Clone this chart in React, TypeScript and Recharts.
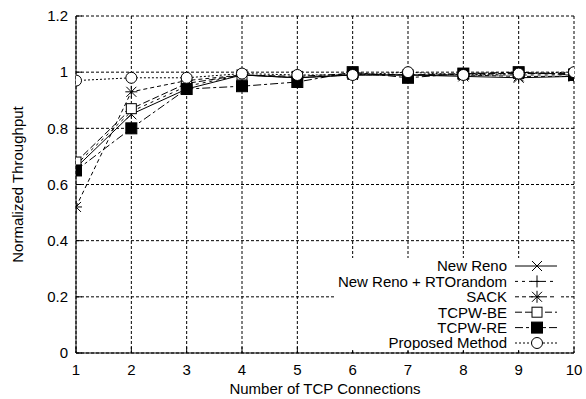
import React from 'react';
import { LineChart, Line, XAxis, YAxis, CartesianGrid, Legend } from 'recharts';

const connections = [1, 2, 3, 4, 5, 6, 7, 8, 9, 10];
const newReno = [0.66, 0.85, 0.94, 0.99, 0.98, 0.99, 0.99, 0.985, 0.98, 0.985];
const newRenoRto = [0.67, 0.86, 0.95, 0.99, 0.98, 0.99, 0.99, 0.99, 0.99, 0.99];
const sack = [0.52, 0.93, 0.97, 0.99, 0.98, 0.99, 0.99, 0.99, 0.985, 0.985];
const tcpwBE = [0.68, 0.87, 0.96, 0.99, 0.985, 0.995, 0.99, 0.995, 0.995, 0.995];
const tcpwRE = [0.65, 0.8, 0.94, 0.95, 0.965, 1.0, 0.98, 0.995, 1.0, 0.99];
const proposed = [0.97, 0.98, 0.98, 0.995, 0.99, 0.99, 1.0, 0.99, 0.995, 1.0];

const xTicks = [1, 2, 3, 4, 5, 6, 7, 8, 9, 10];
const yTicks = [0, 0.2, 0.4, 0.6, 0.8, 1, 1.2];

const FONT = '"Liberation Sans", Arial, Helvetica, sans-serif';

type MarkerKind = 'x' | 'plus' | 'star' | 'openSquare' | 'filledSquare' | 'circle';

const series: { key: string; name: string; values: number[]; dash?: string; marker: MarkerKind }[] = [
  { key: 'newReno', name: 'New Reno', values: newReno, dash: undefined, marker: 'x' },
  { key: 'newRenoRto', name: 'New Reno + RTOrandom', values: newRenoRto, dash: '3 4', marker: 'plus' },
  { key: 'sack', name: 'SACK', values: sack, dash: '4 3', marker: 'star' },
  { key: 'tcpwBE', name: 'TCPW-BE', values: tcpwBE, dash: '7 3', marker: 'openSquare' },
  { key: 'tcpwRE', name: 'TCPW-RE', values: tcpwRE, dash: '8 3 3 3', marker: 'filledSquare' },
  { key: 'proposed', name: 'Proposed Method', values: proposed, dash: '2 2', marker: 'circle' },
];

const data = connections.map((x, i) => {
  const row: Record<string, number> = { x };
  series.forEach((s) => {
    row[s.key] = s.values[i];
  });
  return row;
});

function Marker({ cx, cy, kind }: { cx: number; cy: number; kind: MarkerKind }) {
  const h = 5;
  switch (kind) {
    case 'x':
      return (
        <g stroke="#000" strokeWidth={1}>
          <line x1={cx - h} y1={cy - h} x2={cx + h} y2={cy + h} />
          <line x1={cx - h} y1={cy + h} x2={cx + h} y2={cy - h} />
        </g>
      );
    case 'plus':
      return (
        <g stroke="#000" strokeWidth={1}>
          <line x1={cx - h - 1} y1={cy} x2={cx + h + 1} y2={cy} />
          <line x1={cx} y1={cy - h - 1} x2={cx} y2={cy + h + 1} />
        </g>
      );
    case 'star':
      return (
        <g stroke="#000" strokeWidth={1}>
          <line x1={cx - h} y1={cy - h} x2={cx + h} y2={cy + h} />
          <line x1={cx - h} y1={cy + h} x2={cx + h} y2={cy - h} />
          <line x1={cx - h - 1} y1={cy} x2={cx + h + 1} y2={cy} />
          <line x1={cx} y1={cy - h - 1} x2={cx} y2={cy + h + 1} />
        </g>
      );
    case 'openSquare':
      return <rect x={cx - 5} y={cy - 5} width={10} height={10} fill="#fff" stroke="#000" strokeWidth={1} />;
    case 'filledSquare':
      return <rect x={cx - 5.5} y={cy - 5.5} width={11} height={11} fill="#000" stroke="#000" strokeWidth={1} />;
    case 'circle':
    default:
      return <circle cx={cx} cy={cy} r={5.5} fill="#fff" stroke="#000" strokeWidth={1} />;
  }
}

const makeDot = (kind: MarkerKind) => (props: any) => {
  const { cx, cy, index } = props;
  if (cx == null || cy == null) return <g key={`d-${kind}-${index}`} />;
  return (
    <g key={`d-${kind}-${index}`}>
      <Marker cx={cx} cy={cy} kind={kind} />
    </g>
  );
};

const renderLegend = () => (
  <svg width={225} height={92} style={{ display: 'block', background: '#fff' }}>
    {series.map((s, i) => {
      const y = 8 + i * 15.4;
      return (
        <g key={s.key}>
          <text
            x={172}
            y={y}
            dy="0.36em"
            textAnchor="end"
            fontSize={15}
            fontFamily={FONT}
            fill="#000"
          >
            {s.name}
          </text>
          <line x1={180} x2={222} y1={y} y2={y} stroke="#000" strokeWidth={1} strokeDasharray={s.dash} />
          <Marker cx={202} cy={y} kind={s.marker} />
        </g>
      );
    })}
  </svg>
);

const renderYLabel = (props: any) => {
  const vb = props && props.viewBox ? props.viewBox : { x: 0, y: 16, width: 76, height: 337 };
  const x = vb.x + 17;
  const y = vb.y + vb.height / 2;
  return (
    <text
      x={x}
      y={y}
      transform={`rotate(-90, ${x}, ${y})`}
      textAnchor="middle"
      dominantBaseline="central"
      fontSize={15}
      fontFamily={FONT}
      fill="#000"
    >
      Normalized Throughput
    </text>
  );
};

const renderXLabel = (props: any) => {
  const vb = props && props.viewBox ? props.viewBox : { x: 76, y: 353, width: 498, height: 46 };
  return (
    <text
      x={vb.x + vb.width / 2}
      y={vb.y + 41}
      textAnchor="middle"
      fontSize={15}
      fontFamily={FONT}
      fill="#000"
    >
      Number of TCP Connections
    </text>
  );
};

const tickStyle = { fill: '#000', fontSize: 15, fontFamily: FONT };

export default function App() {
  return (
    <div style={{ position: 'absolute', left: 0, top: 0, width: 586, height: 399, background: '#fff' }}>
      <LineChart
        width={586}
        height={399}
        data={data}
        margin={{ top: 16, right: 12, left: 0, bottom: 0 }}
        style={{ fontFamily: FONT }}
      >
        <CartesianGrid stroke="#000" strokeWidth={1} strokeDasharray="3 2" horizontalValues={yTicks} verticalValues={xTicks} />
        <XAxis
          dataKey="x"
          type="number"
          domain={[1, 10]}
          ticks={xTicks}
          allowDataOverflow
          height={46}
          axisLine={{ stroke: '#000', strokeWidth: 1 }}
          tickLine={{ stroke: '#000', strokeWidth: 1 }}
          tickSize={-6}
          tickMargin={17}
          tick={tickStyle}
          interval={0}
          label={renderXLabel}
        />
        <XAxis
          xAxisId="top"
          orientation="top"
          dataKey="x"
          type="number"
          domain={[1, 10]}
          ticks={xTicks}
          allowDataOverflow
          height={0}
          axisLine={{ stroke: '#000', strokeWidth: 1 }}
          tickLine={{ stroke: '#000', strokeWidth: 1 }}
          tickSize={-6}
          tickFormatter={() => ''}
          interval={0}
        />
        <YAxis
          type="number"
          domain={[0, 1.2]}
          ticks={yTicks}
          allowDataOverflow
          width={76}
          axisLine={{ stroke: '#000', strokeWidth: 1 }}
          tickLine={{ stroke: '#000', strokeWidth: 1 }}
          tickSize={-6}
          tickMargin={14}
          tick={tickStyle}
          interval={0}
          label={renderYLabel}
        />
        <YAxis
          yAxisId="right"
          orientation="right"
          type="number"
          domain={[0, 1.2]}
          ticks={yTicks}
          allowDataOverflow
          width={0}
          axisLine={{ stroke: '#000', strokeWidth: 1 }}
          tickLine={{ stroke: '#000', strokeWidth: 1 }}
          tickSize={-6}
          tickFormatter={() => ''}
          interval={0}
        />
        <Legend
          layout="vertical"
          align="center"
          verticalAlign="middle"
          content={renderLegend}
          wrapperStyle={{ position: 'absolute', left: 335, top: 258, width: 225, height: 92, margin: 0, padding: 0 }}
        />
        {series.map((s) => (
          <Line
            key={s.key}
            dataKey={s.key}
            name={s.name}
            type="linear"
            stroke="#000"
            strokeWidth={1}
            strokeDasharray={s.dash}
            dot={makeDot(s.marker)}
            activeDot={false}
            isAnimationActive={false}
          />
        ))}
      </LineChart>
    </div>
  );
}
